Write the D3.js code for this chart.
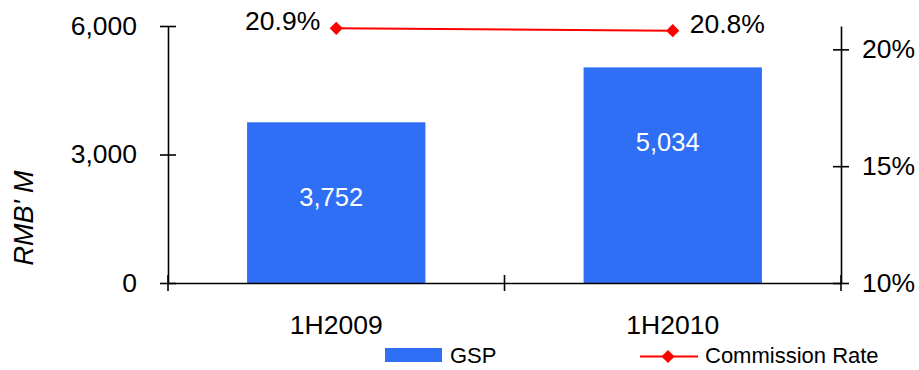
<!DOCTYPE html>
<html>
<head>
<meta charset="utf-8">
<script src="https://cdn.jsdelivr.net/npm/d3@7"></script>
<style>
  html, body { margin: 0; padding: 0; background: #fff; }
  svg { display: block; font-family: "Liberation Sans", Arial, Helvetica, sans-serif; }
</style>
</head>
<body>
<svg id="chart" width="919" height="370"></svg>
<script>
// Half-year GSP (RMB million) and commission rate
const categories = ["1H2009", "1H2010"];
const gspValues = [3752, 5034];
const commissionRates = [0.209, 0.208];
const leftTicks = [0, 3000, 6000];
const rightTicks = [0.10, 0.15, 0.20];
const legendLabels = ["GSP", "Commission Rate"];

const barColor = "#2F6FF6";
const lineColor = "#FF0000";
const axisColor = "#000";

const svg = d3.select("#chart");
const plot = { left: 168, right: 841, top: 26, bottom: 283 };

const x = d3.scaleBand()
  .domain(categories)
  .range([plot.left, plot.right])
  .paddingInner(0.47)
  .paddingOuter(0.235);

const yLeft = d3.scaleLinear().domain([0, 6000]).range([plot.bottom, plot.top]);
const yRight = d3.scaleLinear().domain([0.10, 0.21]).range([plot.bottom, plot.top]);

// Bars
svg.append("g").selectAll("rect")
  .data(gspValues)
  .join("rect")
  .attr("x", (d, i) => x(categories[i]))
  .attr("width", x.bandwidth())
  .attr("y", d => yLeft(d))
  .attr("height", d => yLeft(0) - yLeft(d))
  .attr("fill", barColor);

// Bar value labels
svg.append("g").selectAll("text")
  .data(gspValues)
  .join("text")
  .attr("x", (d, i) => x(categories[i]) + x.bandwidth() / 2 - 5)
  .attr("y", d => yLeft(d) + 84)
  .attr("text-anchor", "middle")
  .attr("fill", "#fff")
  .style("font-size", "25.5px")
  .text(d => d3.format(",")(d));

// Left axis
const gLeft = svg.append("g")
  .attr("transform", `translate(${plot.left},0)`)
  .call(d3.axisLeft(yLeft).tickValues(leftTicks).tickFormat(d3.format(",")).tickSizeInner(8).tickSizeOuter(0).tickPadding(23));
gLeft.selectAll(".tick line").attr("x1", -8).attr("x2", 8);

// Right axis
const gRight = svg.append("g")
  .attr("transform", `translate(${plot.right},0)`)
  .call(d3.axisRight(yRight).tickValues(rightTicks).tickFormat(d3.format(".0%")).tickSizeInner(8).tickSizeOuter(0).tickPadding(13));
gRight.selectAll(".tick line").attr("x1", -8).attr("x2", 8);

// Category axis
const gBottom = svg.append("g")
  .attr("transform", `translate(0,${plot.bottom})`)
  .call(d3.axisBottom(x).tickSize(0).tickPadding(51));
gBottom.selectAll(".tick line").remove();
const catEdges = [plot.left, (plot.left + plot.right) / 2, plot.right];
gBottom.selectAll("line.edge")
  .data(catEdges)
  .join("line")
  .attr("class", "edge")
  .attr("x1", d => d).attr("x2", d => d)
  .attr("y1", -8).attr("y2", 8)
  .attr("stroke", axisColor);

[gLeft, gRight, gBottom].forEach(g => {
  g.selectAll(".domain").attr("stroke", axisColor).attr("stroke-width", 1.6);
  g.selectAll("line").attr("stroke", axisColor).attr("stroke-width", 1.6);
  g.selectAll("text")
    .attr("fill", "#000")
    .style("font-size", "26.5px")
    .style("font-family", "'Liberation Sans', Arial, sans-serif");
});
gBottom.selectAll(".tick text").attr("dy", "0");

// Left axis title
svg.append("text")
  .attr("transform", "translate(33,218) rotate(-90)")
  .attr("text-anchor", "middle")
  .style("font-size", "27px")
  .style("font-style", "italic")
  .text("RMB' M");

// Commission rate line
const cx = (d, i) => x(categories[i]) + x.bandwidth() / 2;
const line = d3.line().x(cx).y(d => yRight(d));
svg.append("path")
  .datum(commissionRates)
  .attr("d", line)
  .attr("fill", "none")
  .attr("stroke", lineColor)
  .attr("stroke-width", 2);

const diamond = d3.symbol().type(d3.symbolDiamond2).size(110);
svg.append("g").selectAll("path")
  .data(commissionRates)
  .join("path")
  .attr("transform", (d, i) => `translate(${cx(d, i)},${yRight(d)})`)
  .attr("d", diamond)
  .attr("fill", lineColor);

// Rate labels: first sits left of its point, second right
svg.append("g").selectAll("text")
  .data(commissionRates)
  .join("text")
  .attr("x", (d, i) => cx(d, i) + (i === 0 ? -16 : 17))
  .attr("y", d => yRight(d) + 2)
  .attr("text-anchor", (d, i) => i === 0 ? "end" : "start")
  .style("font-size", "26.5px")
  .text(d => d3.format(".1%")(d));

// Legend
const legend = svg.append("g");
legend.append("rect")
  .attr("x", 385).attr("y", 348).attr("width", 57).attr("height", 14)
  .attr("fill", barColor);
legend.append("text")
  .attr("x", 450).attr("y", 363)
  .style("font-size", "22px")
  .text(legendLabels[0]);
legend.append("line")
  .attr("x1", 640).attr("x2", 698).attr("y1", 356.5).attr("y2", 356.5)
  .attr("stroke", lineColor).attr("stroke-width", 2);
legend.append("path")
  .attr("transform", "translate(668,356.5)")
  .attr("d", diamond)
  .attr("fill", lineColor);
legend.append("text")
  .attr("x", 705).attr("y", 363)
  .style("font-size", "22px")
  .text(legendLabels[1]);
</script>
</body>
</html>
